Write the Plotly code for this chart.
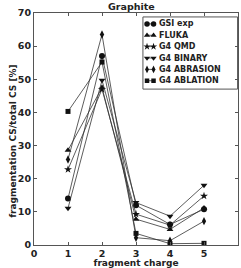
import plotly.graph_objects as go

# ---- data ----
charge = [1, 2, 3, 4, 5]
gsi_exp = [14.0, 57.0, 12.0, 6.2, 10.8]
fluka = [28.6, 47.5, 7.8, 4.7, 11.2]
g4_qmd = [22.8, 47.0, 9.3, 6.0, 14.8]
g4_binary = [11.1, 49.7, 12.8, 8.7, 18.0]
g4_abrasion = [25.8, 63.5, 2.2, 1.3, 7.2]
g4_ablation = [40.3, 55.2, 3.5, 0.4, 0.5]
series_names = ["GSI exp", "FLUKA", "G4 QMD", "G4 BINARY", "G4 ABRASION", "G4 ABLATION"]
series_values = [gsi_exp, fluka, g4_qmd, g4_binary, g4_abrasion, g4_ablation]
x_ticks = [0, 1, 2, 3, 4, 5, 6]
y_ticks = [0, 10, 20, 30, 40, 50, 60, 70]

# ---- styles ----
symbols = ["circle", "triangle-up", "star", "triangle-down", "diamond-tall", "square"]
sizes = [6, 6, 6, 6, 6, 5]
FONT = "DejaVu Sans"
INK = "#222222"

fig = go.Figure()
for name, vals, sym, sz in zip(series_names, series_values, symbols, sizes):
    fig.add_trace(go.Scatter(
        x=charge, y=vals, name=name, mode="lines+markers", showlegend=False,
        line=dict(color="#333333", width=0.8),
        marker=dict(symbol=sym, size=sz, color="#111111"),
    ))

# ---- custom compact legend (drawn in an auxiliary 0..1 axis over the plot area) ----
LEG_X0, LEG_X1, LEG_Y0, LEG_Y1 = 0.534, 0.998, 0.672, 0.983
ROW_TOP, ROW_STEP = 0.953, 0.049
SAMPLE_X = [0.554, 0.586]
TEXT_X = 0.603
fig.add_shape(type="rect", xref="paper", yref="paper",
              x0=LEG_X0, x1=LEG_X1, y0=LEG_Y0, y1=LEG_Y1,
              line=dict(color="#555555", width=1), fillcolor="white", layer="below")
for i, (name, sym, sz) in enumerate(zip(series_names, symbols, sizes)):
    ry = ROW_TOP - i * ROW_STEP
    fig.add_trace(go.Scatter(
        x=SAMPLE_X, y=[ry, ry], xaxis="x2", yaxis="y2", mode="lines+markers",
        showlegend=False, hoverinfo="skip", cliponaxis=False,
        line=dict(color="#333333", width=0.8),
        marker=dict(symbol=sym, size=sz - 0.5, color="#111111"),
    ))
    fig.add_annotation(text="<b>" + name + "</b>", xref="paper", yref="paper",
                       x=TEXT_X, y=ry, xanchor="left", yanchor="middle", showarrow=False,
                       font=dict(family=FONT, size=8, color=INK))

axis_common = dict(
    showline=True, linecolor="#555555", linewidth=1, mirror="ticks",
    ticks="inside", ticklen=3, tickcolor="#555555", showgrid=False, zeroline=False,
    tickfont=dict(family=FONT, size=9.5, color=INK, weight="bold"),
)
fig.update_layout(
    width=241, height=268,
    margin=dict(l=34, r=3, t=13, b=23),
    paper_bgcolor="white", plot_bgcolor="white",
    title=dict(text="<b>Graphite</b>", xref="container", x=0.545, xanchor="center",
               yref="container", y=0.976, yanchor="middle",
               font=dict(family=FONT, size=9.5, color=INK)),
    xaxis=dict(range=[0, 6], tickvals=x_ticks,
               title=dict(text="<b>fragment charge</b>", standoff=0,
                          font=dict(family=FONT, size=9, color=INK)),
               **axis_common),
    yaxis=dict(range=[0, 70], tickvals=y_ticks, **axis_common),
    xaxis2=dict(overlaying="x", range=[0, 1], visible=False, fixedrange=True),
    yaxis2=dict(overlaying="y", range=[0, 1], visible=False, fixedrange=True),
    showlegend=False,
    hovermode=False,
)
fig.add_annotation(text="<b>fragmentation CS/total CS [%]</b>", xref="paper", yref="paper",
                   x=-0.104, y=0.448, xanchor="center", yanchor="middle", textangle=-90,
                   showarrow=False, font=dict(family=FONT, size=9, color=INK))

fig.write_html("out.html", config={"displayModeBar": False, "staticPlot": True},
               post_script="document.body.style.margin='0';document.body.style.padding='0';")
